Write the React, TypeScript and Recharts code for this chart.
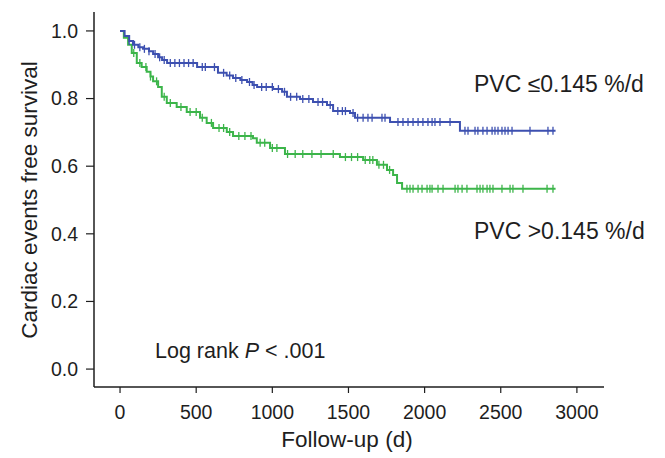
import { ComposedChart, Line, Scatter, XAxis, YAxis } from 'recharts';

// axis ticks
const X_TICKS = [0, 500, 1000, 1500, 2000, 2500, 3000];
const Y_TICKS = [0, 0.2, 0.4, 0.6, 0.8, 1.0];

// PVC <=0.145 %/d — [day, survival] at each event step
const LOW_STEPS: [number, number][] = [
  [0, 1.0], [30, 0.985], [60, 0.97], [85, 0.959], [120, 0.952], [151, 0.947],
  [190, 0.94], [217, 0.932], [250, 0.922], [276, 0.914], [309, 0.905],
  [506, 0.893], [643, 0.876], [700, 0.868], [742, 0.861], [790, 0.855],
  [834, 0.849], [870, 0.84], [900, 0.834], [1005, 0.828], [1064, 0.82],
  [1096, 0.805], [1182, 0.799], [1267, 0.79], [1359, 0.781], [1399, 0.763],
  [1510, 0.757], [1543, 0.743], [1773, 0.731], [2232, 0.705],
];
const LOW_CENSORED = [
  60, 95, 130, 160, 190, 230, 260, 290, 330, 360, 390, 420, 450, 480, 540, 560,
  620, 680, 720, 760, 800, 850, 880, 930, 960, 1000, 1040, 1080, 1120, 1160,
  1200, 1240, 1300, 1330, 1380, 1430, 1460, 1480, 1530, 1560,
  1596, 1628, 1655, 1720, 1740, 1825, 1858, 1891, 1924, 1957, 1989, 2022, 2049,
  2068, 2101, 2167, 2265, 2285, 2331, 2350, 2383, 2410, 2443, 2462, 2482, 2508,
  2528, 2548, 2574, 2692, 2810, 2843,
];

// PVC >0.145 %/d
const HIGH_STEPS: [number, number][] = [
  [0, 1.0], [25, 0.98], [53, 0.959], [77, 0.935], [110, 0.905], [142, 0.893],
  [175, 0.879], [200, 0.865], [217, 0.851], [250, 0.834], [274, 0.805],
  [307, 0.787], [372, 0.775], [438, 0.76], [525, 0.743], [569, 0.728],
  [611, 0.713], [701, 0.701], [742, 0.689], [873, 0.683], [898, 0.669],
  [985, 0.654], [1083, 0.636], [1444, 0.627], [1596, 0.618], [1687, 0.604],
  [1753, 0.589], [1793, 0.574], [1819, 0.55], [1852, 0.533],
];
const HIGH_CENSORED = [
  90, 130, 170, 200, 240, 290, 330, 400, 460, 500, 540, 600, 650, 680, 720, 780,
  820, 860, 920, 950, 1000, 1030, 1100, 1150, 1200, 1260, 1320, 1400, 1480,
  1520, 1560, 1610, 1640, 1660, 1700, 1730, 1770,
  1884, 1904, 1924, 1957, 1983, 2016, 2035, 2049, 2088, 2121, 2200, 2219, 2246,
  2278, 2344, 2364, 2383, 2410, 2429, 2449, 2508, 2561, 2580, 2646, 2804, 2843,
];

const LAST_DAY = 2860;

const BLUE = '#3d50b0';
const GREEN = '#3cb54a';
const INK = '#1e1e1e';
const FONT = '"Liberation Sans", Arial, sans-serif';

function survivalAt(steps: [number, number][], t: number): number {
  let s = 1;
  for (const [day, v] of steps) {
    if (day <= t) s = v;
  }
  return s;
}

function curve(steps: [number, number][]) {
  const pts = steps.map(([t, s]) => ({ t, s }));
  pts.push({ t: LAST_DAY, s: steps[steps.length - 1][1] });
  return pts;
}

function marks(steps: [number, number][], times: number[]) {
  return times.map((t) => ({ t, s: survivalAt(steps, t) }));
}

function censorTick(color: string) {
  return (props: any) => {
    const { cx, cy } = props;
    if (cx == null || cy == null) return <g />;
    return <line x1={cx} x2={cx} y1={cy - 4} y2={cy + 4} stroke={color} strokeWidth={1.3} />;
  };
}

export default function App() {
  const tick = { fill: INK, fontSize: 19.5, fontFamily: FONT };
  return (
    <div style={{ position: 'absolute', left: 0, top: 0, width: 665, height: 458, background: '#fff', fontFamily: FONT }}>
      <ComposedChart width={665} height={458} margin={{ top: 12, right: 61, bottom: 0, left: 0 }}>
        <XAxis
          type="number"
          dataKey="t"
          domain={[-171, 3178]}
          ticks={X_TICKS}
          allowDataOverflow
          tick={tick}
          tickSize={6}
          tickMargin={12}
          height={71}
          axisLine={{ stroke: INK, strokeWidth: 1.5 }}
          tickLine={{ stroke: INK, strokeWidth: 1.2 }}
        />
        <YAxis
          type="number"
          dataKey="s"
          domain={[-0.053, 1.056]}
          ticks={Y_TICKS}
          allowDataOverflow
          tickFormatter={(v: number) => v.toFixed(1)}
          tick={tick}
          tickSize={8}
          tickMargin={8}
          width={94}
          axisLine={{ stroke: INK, strokeWidth: 1.5 }}
          tickLine={{ stroke: INK, strokeWidth: 1.2 }}
        />
        <Line data={curve(HIGH_STEPS)} dataKey="s" type="stepAfter" stroke={GREEN} strokeWidth={2} dot={false} isAnimationActive={false} />
        <Scatter data={marks(HIGH_STEPS, HIGH_CENSORED)} dataKey="s" shape={censorTick(GREEN)} isAnimationActive={false} />
        <Line data={curve(LOW_STEPS)} dataKey="s" type="stepAfter" stroke={BLUE} strokeWidth={2} dot={false} isAnimationActive={false} />
        <Scatter data={marks(LOW_STEPS, LOW_CENSORED)} dataKey="s" shape={censorTick(BLUE)} isAnimationActive={false} />
      </ComposedChart>

      <div style={{ position: 'absolute', left: 30, top: 200, transform: 'translate(-50%, -50%) rotate(-90deg)', whiteSpace: 'nowrap', fontSize: 22.5, color: INK }}>
        Cardiac events free survival
      </div>
      <div style={{ position: 'absolute', left: 347, top: 440, transform: 'translate(-50%, -50%)', whiteSpace: 'nowrap', fontSize: 22.5, color: INK }}>
        Follow-up (d)
      </div>
      <div style={{ position: 'absolute', left: 474, top: 84, transform: 'translateY(-50%)', whiteSpace: 'nowrap', fontSize: 23, color: INK }}>
        PVC ≤0.145 %/d
      </div>
      <div style={{ position: 'absolute', left: 474, top: 231, transform: 'translateY(-50%)', whiteSpace: 'nowrap', fontSize: 23, color: INK }}>
        PVC &gt;0.145 %/d
      </div>
      <div style={{ position: 'absolute', left: 155, top: 351, transform: 'translateY(-50%)', whiteSpace: 'nowrap', fontSize: 21.5, color: INK }}>
        Log rank <i>P</i> &lt; .001
      </div>
    </div>
  );
}
